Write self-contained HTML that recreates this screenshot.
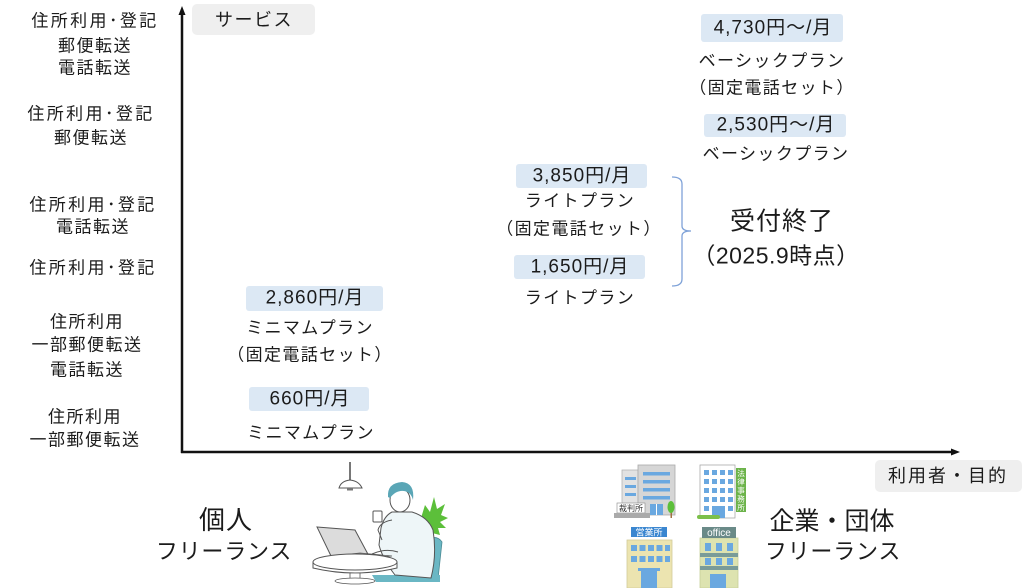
<!DOCTYPE html>
<html><head><meta charset="utf-8"><style>
html,body{margin:0;padding:0;background:#fff;}
body{width:1024px;height:588px;position:relative;overflow:hidden;font-family:"Liberation Sans","Noto Sans CJK JP",sans-serif;color:#1b1b1b;}
.c{position:absolute;transform:translate(-50%,-50%);white-space:nowrap;line-height:1;}
.l{font-size:17px;letter-spacing:1.5px;}
.ld{font-size:17px;letter-spacing:2.4px;}
.p{font-size:17px;letter-spacing:1.4px;}
.b{position:absolute;background:#dce8f4;border-radius:3px;}
.pr{font-size:19px;letter-spacing:1px;}
.g{position:absolute;background:#efefef;border-radius:5px;}
svg{position:absolute;left:0;top:0;}
</style></head><body>

<svg width="1024" height="588" viewBox="0 0 1024 588">
  <!-- axes -->
  <line x1="182" y1="14" x2="182" y2="453" stroke="#111" stroke-width="2.5"/>
  <polygon points="182,6 178.5,15 185.5,15" fill="#111"/>
  <line x1="181" y1="452" x2="952" y2="452" stroke="#111" stroke-width="2.5"/>
  <polygon points="960,452 951,448.5 951,455.5" fill="#111"/>
  <!-- bracket -->
  <path d="M672,177 Q682,177 682,184 L682,226 Q682,231 691,231 Q682,231 682,236 L682,279 Q682,286 672,286" fill="none" stroke="#7fa2d8" stroke-width="1.3"/>

  <!-- person illustration -->
  <line x1="350" y1="462" x2="350" y2="481" stroke="#777" stroke-width="2"/>
  <path d="M339,488 Q341,481 350,480 Q359,481 362,488 Z" fill="#fff" stroke="#555" stroke-width="1"/>
  <rect x="347" y="488" width="6" height="2.5" fill="#777"/>
  <polygon points="421,518 425,505 430,512 434,497 437,509 445,504 441,515 448,518 440,522 446,528 438,528 440,535 428,532" fill="#5cbf3a"/>
  <path d="M424,540 Q437,534 442,542 L438,579 L424,580 Z" fill="#6ab7c4" stroke="#4a8a94" stroke-width="0.8"/>
  <path d="M372,575 L440,575 L440,582 L376,582 Z" fill="#6ab7c4"/>
  <path d="M392,512 Q384,516 381,528 L379,545 Q383,560 395,575 L431,578 Q437,555 433,530 Q428,517 412,512 Z" fill="#eef6f8" stroke="#555" stroke-width="1"/>
  <path d="M392,520 Q380,522 378,530 L382,540" fill="none" stroke="#555" stroke-width="1"/>
  <ellipse cx="400" cy="500" rx="10" ry="12" fill="#fff" stroke="#555" stroke-width="1"/>
  <path d="M388,497 Q387,483 402,482 Q415,483 413,500 Q411,492 404,491 Q396,490 390,498 Z" fill="#5aa6b6"/>
  <rect x="373" y="511" width="9" height="11" rx="1" fill="#fff" stroke="#555" stroke-width="1"/>
  <polygon points="317,527 355,530 370,558 331,556" fill="#dcdcdc" stroke="#555" stroke-width="1"/>
  <polygon points="331,556 370,558 392,556 360,553" fill="#f4f4f4" stroke="#555" stroke-width="0.8"/>
  <path d="M372,554 Q385,548 398,552" fill="none" stroke="#555" stroke-width="1"/>
  <path d="M313,562 L313,568 Q355,578 397,568 L397,562" fill="#fff" stroke="#555" stroke-width="1"/>
  <ellipse cx="355" cy="562" rx="42" ry="8" fill="#fff" stroke="#555" stroke-width="1"/>
  <rect x="350" y="573" width="10" height="7" fill="#fff" stroke="#555" stroke-width="0.8"/>
  <ellipse cx="355" cy="581" rx="20" ry="3" fill="#fff" stroke="#555" stroke-width="0.8"/>

  <!-- building 1 (裁判所) -->
  <rect x="622" y="470" width="16" height="45" fill="#e2e2e2" stroke="#b5b5b5" stroke-width="0.8"/>
  <rect x="625" y="477" width="11" height="3" fill="#6aa8e0"/>
  <rect x="625" y="485" width="11" height="3" fill="#6aa8e0"/>
  <rect x="625" y="493" width="11" height="3" fill="#6aa8e0"/>
  <rect x="638" y="465" width="37" height="50" fill="#d6d6d6" stroke="#aaa" stroke-width="0.8"/>
  <rect x="643" y="472" width="27" height="3.5" fill="#6aa8e0"/>
  <rect x="643" y="480" width="27" height="3.5" fill="#6aa8e0"/>
  <rect x="643" y="488" width="27" height="3.5" fill="#6aa8e0"/>
  <rect x="643" y="496" width="27" height="3.5" fill="#6aa8e0"/>
  <rect x="650" y="504" width="13" height="11" fill="#6aa8e0"/>
  <line x1="656.5" y1="504" x2="656.5" y2="515" stroke="#fff" stroke-width="1"/>
  <rect x="617" y="503" width="28" height="10" fill="#fff" stroke="#888" stroke-width="0.6"/>
  <text x="631" y="511" font-size="8" text-anchor="middle" fill="#333" font-family="Noto Sans CJK JP, sans-serif">裁判所</text>
  <rect x="614" y="513" width="36" height="5" fill="#aaa"/>
  <rect x="670.5" y="509" width="1.5" height="9" fill="#a07040"/>
  <ellipse cx="671" cy="507" rx="3.5" ry="6" fill="#5cbf3a"/>

  <!-- building 2 (法律事務所) -->
  <rect x="700" y="465" width="35" height="53" fill="#fff" stroke="#aaa" stroke-width="0.8"/>
  <g fill="#6aa8e0">
    <rect x="704" y="470" width="5" height="5"/><rect x="712" y="470" width="5" height="5"/><rect x="720" y="470" width="5" height="5"/><rect x="728" y="470" width="5" height="5"/>
    <rect x="704" y="479" width="5" height="5"/><rect x="712" y="479" width="5" height="5"/><rect x="720" y="479" width="5" height="5"/><rect x="728" y="479" width="5" height="5"/>
    <rect x="704" y="488" width="5" height="5"/><rect x="712" y="488" width="5" height="5"/><rect x="720" y="488" width="5" height="5"/><rect x="728" y="488" width="5" height="5"/>
    <rect x="704" y="497" width="5" height="5"/><rect x="712" y="497" width="5" height="5"/><rect x="720" y="497" width="5" height="5"/><rect x="728" y="497" width="5" height="5"/>
    <rect x="704" y="506" width="5" height="5"/><rect x="712" y="506" width="13" height="12"/><rect x="728" y="506" width="5" height="5"/>
  </g>
  <rect x="736" y="468" width="10" height="44" fill="#6cb34a"/>
  <text font-size="7.5" fill="#fff" text-anchor="middle" font-family="Noto Sans CJK JP, sans-serif"><tspan x="741" y="476">法</tspan><tspan x="741" y="484.5">律</tspan><tspan x="741" y="493">事</tspan><tspan x="741" y="501.5">務</tspan><tspan x="741" y="510">所</tspan></text>
  <rect x="697" y="515" width="23" height="4" rx="2" fill="#7cc04a"/>

  <!-- building 3 (営業所) -->
  <rect x="627" y="540" width="45" height="48" fill="#ece4b0" stroke="#d2ca9a" stroke-width="0.8"/>
  <rect x="631" y="527" width="36" height="10" fill="#3a86d0"/>
  <text x="649" y="535.5" font-size="9" text-anchor="middle" fill="#fff" font-family="Noto Sans CJK JP, sans-serif">営業所</text>
  <g fill="#6aa8e0">
    <rect x="631" y="545" width="6" height="6"/><rect x="639.5" y="545" width="6" height="6"/><rect x="648" y="545" width="6" height="6"/><rect x="656.5" y="545" width="6" height="6"/><rect x="665" y="545" width="5" height="6"/>
    <rect x="631" y="556" width="6" height="6"/><rect x="639.5" y="556" width="6" height="6"/><rect x="648" y="556" width="6" height="6"/><rect x="656.5" y="556" width="6" height="6"/><rect x="665" y="556" width="5" height="6"/>
    <rect x="638" y="568" width="22" height="3"/><rect x="641" y="571" width="16" height="17"/>
  </g>

  <!-- building 4 (office) -->
  <rect x="700" y="538" width="38" height="50" fill="#dde3b0" stroke="#c8cf9a" stroke-width="0.8"/>
  <rect x="702" y="527" width="34" height="11" fill="#6a8a88"/>
  <text x="719" y="536" font-size="10" text-anchor="middle" fill="#fff" font-family="Liberation Sans, sans-serif">office</text>
  <rect x="700" y="553" width="38" height="4" fill="#7a9c98"/>
  <rect x="700" y="566" width="38" height="4" fill="#7a9c98"/>
  <g fill="#6aa8e0">
    <rect x="705" y="543" width="6" height="8"/><rect x="716" y="543" width="6" height="8"/><rect x="727" y="543" width="6" height="8"/>
    <rect x="705" y="558" width="6" height="7"/><rect x="716" y="558" width="6" height="7"/><rect x="727" y="558" width="6" height="7"/>
    <rect x="710" y="574" width="16" height="14"/>
  </g>
</svg>

<!-- axis labels -->
<div class="g" style="left:192px;top:4px;width:123px;height:31px;"></div>
<div class="c" style="left:254px;top:20px;font-size:18px;letter-spacing:1.5px;">サービス</div>
<div class="g" style="left:875px;top:460px;width:147px;height:32px;"></div>
<div class="c" style="left:948px;top:476px;font-size:18px;letter-spacing:2px;">利用者・目的</div>

<!-- left labels -->
<div class="c ld" style="left:95px;top:21px;">住所利用･登記</div>
<div class="c l" style="left:95px;top:46px;">郵便転送</div>
<div class="c l" style="left:95px;top:68px;">電話転送</div>
<div class="c ld" style="left:91px;top:114px;">住所利用･登記</div>
<div class="c l" style="left:91px;top:138px;">郵便転送</div>
<div class="c ld" style="left:93px;top:205px;">住所利用･登記</div>
<div class="c l" style="left:93px;top:227px;">電話転送</div>
<div class="c ld" style="left:93px;top:268px;">住所利用･登記</div>
<div class="c l" style="left:87px;top:322px;">住所利用</div>
<div class="c l" style="left:87px;top:345px;">一部郵便転送</div>
<div class="c l" style="left:87px;top:370px;">電話転送</div>
<div class="c l" style="left:85px;top:417px;">住所利用</div>
<div class="c l" style="left:85px;top:440px;">一部郵便転送</div>

<!-- top right plans -->
<div class="b" style="left:701px;top:14px;width:142px;height:28px;"></div>
<div class="c pr" style="left:773px;top:28px;">4,730円〜/月</div>
<div class="c p" style="left:772px;top:61px;">ベーシックプラン</div>
<div class="c p" style="left:772px;top:88px;">（固定電話セット）</div>
<div class="b" style="left:704px;top:114px;width:142px;height:23px;"></div>
<div class="c pr" style="left:776px;top:125px;">2,530円〜/月</div>
<div class="c p" style="left:776px;top:154px;">ベーシックプラン</div>

<!-- light plans -->
<div class="b" style="left:516px;top:164px;width:131px;height:24px;"></div>
<div class="c pr" style="left:582px;top:176px;">3,850円/月</div>
<div class="c p" style="left:580px;top:201px;">ライトプラン</div>
<div class="c p" style="left:579px;top:229px;">（固定電話セット）</div>
<div class="b" style="left:514px;top:255px;width:131px;height:24px;"></div>
<div class="c pr" style="left:580px;top:267px;">1,650円/月</div>
<div class="c p" style="left:580px;top:298px;">ライトプラン</div>

<div class="c" style="left:782px;top:222px;font-size:25px;letter-spacing:1px;">受付終了</div>
<div class="c" style="left:776px;top:256px;font-size:23px;letter-spacing:0.5px;">（2025.9時点）</div>

<!-- minimum plans -->
<div class="b" style="left:246px;top:286px;width:137px;height:25px;"></div>
<div class="c pr" style="left:315px;top:298px;">2,860円/月</div>
<div class="c p" style="left:310px;top:328px;">ミニマムプラン</div>
<div class="c p" style="left:310px;top:355px;">（固定電話セット）</div>
<div class="b" style="left:249px;top:387px;width:120px;height:24px;"></div>
<div class="c pr" style="left:310px;top:399px;">660円/月</div>
<div class="c p" style="left:311px;top:433px;">ミニマムプラン</div>

<!-- bottom categories -->
<div class="c" style="left:226px;top:520px;font-size:26px;letter-spacing:1px;">個人</div>
<div class="c" style="left:224px;top:552px;font-size:22px;letter-spacing:0.8px;">フリーランス</div>
<div class="c" style="left:832px;top:522px;font-size:25px;">企業・団体</div>
<div class="c" style="left:833px;top:552px;font-size:22px;letter-spacing:0.8px;">フリーランス</div>

</body></html>
